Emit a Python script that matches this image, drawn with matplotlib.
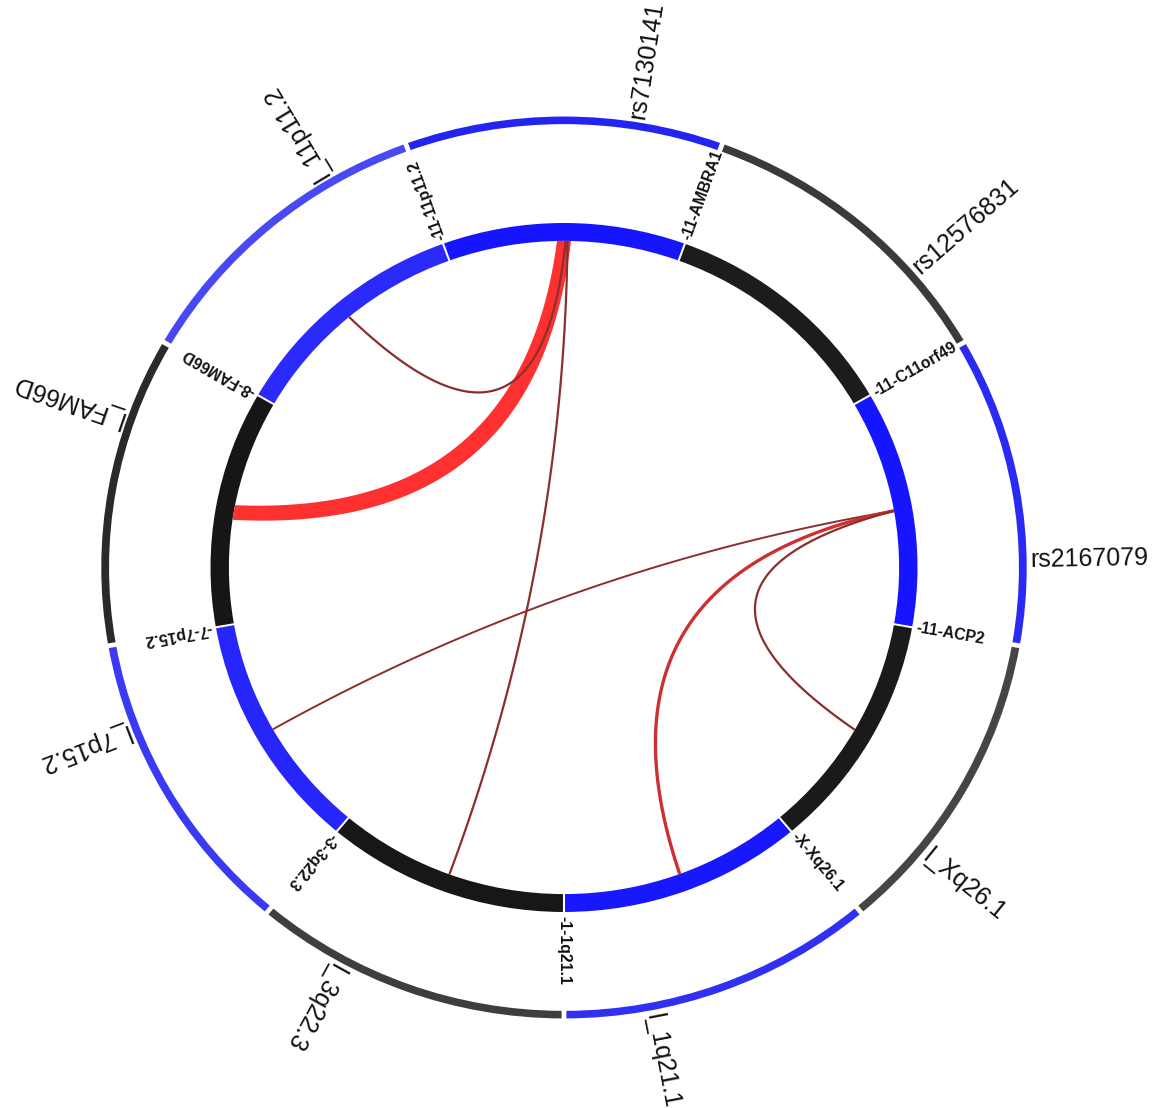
import numpy as np
import matplotlib
matplotlib.use("Agg")
import matplotlib.pyplot as plt
from matplotlib.patches import Wedge, Polygon

# nine sectors, angles in degrees clockwise from 12 o'clock, 40 degrees each
sector_start = [-20, 20, 60, 100, 140, 180, 220, 260, 300]
sector_width = 40

outer_labels = ["rs7130141", "rs12576831", "rs2167079", "l_Xq26.1", "l_1q21.1",
                "l_3q22.3", "l_7p15.2", "l_FAM66D", "l_11p11.2"]
outer_label_pos = [9, 49, 89, 129, 169, 209, 249, 289, 329]
inner_labels = ["-11-11p11.2", "-11-AMBRA1", "-11-C11orf49", "-11-ACP2", "-X-Xq26.1",
                "-1-1q21.1", "-3-3q22.3", "-7-7p15.2", "-8-FAM66D"]

outer_colors = ["#2424f2", "#3a3a3a", "#2a2af4", "#454545", "#3030f2",
                "#3e3e3e", "#3a3af4", "#2a2a2a", "#4848f4"]
inner_colors = ["#1515ff", "#1c1c1c", "#1515ff", "#1a1a1a", "#1818ff",
                "#171717", "#2626fa", "#161616", "#2a2afa"]

# single links: start angle, end angle
link_from = [0.3, 0.6, 80.0, 80.0, 80.0]
link_to = [320.1, 200.0, 240.3, 159.8, 119.8]
link_colors = ["#8b2e2e", "#8b2e2e", "#8b2e2e", "#cc3030", "#8b2e2e"]
link_lw = [1.6, 1.6, 1.4, 2.4, 1.6]
link_bend = [0.21, 0.0, 0.0, 0.05, 0.21]

# the wide ribbon between the two sectors at the top and left
ribbon_from = (-1.2, 1.2)
ribbon_to = (278.4, 281.0)
ribbon_bend = (0.12, 0.19)

R_IN_OUT, R_IN_W = 1.0, 0.052
R_OUT_OUT, R_OUT_W = 1.309, 0.022
R_LINK = R_IN_OUT - R_IN_W


def polar(a, r):
    a = np.radians(a)
    return r * np.sin(a), r * np.cos(a)


def bezier(a1, a2, rc, r=R_LINK, n=120):
    d = ((a2 - a1 + 180) % 360) - 180
    m = a1 + d / 2
    x0, y0 = polar(a1, r)
    x2, y2 = polar(a2, r)
    cx, cy = polar(m, rc)
    t = np.linspace(0, 1, n)
    x = (1 - t) ** 2 * x0 + 2 * t * (1 - t) * cx + t ** 2 * x2
    y = (1 - t) ** 2 * y0 + 2 * t * (1 - t) * cy + t ** 2 * y2
    return x, y


def arc(a1, a2, r=R_LINK, n=20):
    a = np.linspace(a1, a2, n)
    return polar(a, r)


fig = plt.figure(figsize=(11.56, 11.08), dpi=100)
ax = fig.add_axes([0, 0, 1, 1])
ax.set_xlim(-1.5955, 1.6747)
ax.set_ylim(-1.5690, 1.6473)
ax.axis("off")

for i, s in enumerate(sector_start):
    e = s + sector_width
    # Wedge takes counter-clockwise angles from +x
    ax.add_patch(Wedge((0, 0), R_OUT_OUT, 90 - e + 0.3, 90 - s - 0.3,
                       width=R_OUT_W, color=outer_colors[i], lw=0))
    ax.add_patch(Wedge((0, 0), R_IN_OUT, 90 - e + 0.17, 90 - s - 0.17,
                       width=R_IN_W, color=inner_colors[i], lw=0))

    rot = (90 - s + 180) % 360 - 180
    x, y = polar(s, R_IN_OUT + 0.012)
    ax.text(x, y, inner_labels[i], rotation=rot, rotation_mode="anchor",
            ha="left", va="center", fontsize=11.3, fontweight="bold",
            family="Liberation Sans", color="#111111")

    a = outer_label_pos[i]
    rot = (90 - a + 180) % 360 - 180
    x, y = polar(a, R_OUT_OUT + 0.01)
    ax.text(x, y, outer_labels[i], rotation=rot, rotation_mode="anchor",
            ha="left", va="center", fontsize=18, family="Liberation Sans",
            color="#111111")

# ribbon: arc on one end, curve across, arc on the other end, curve back
x1, y1 = arc(ribbon_from[0], ribbon_from[1])
x2, y2 = bezier(ribbon_from[1], ribbon_to[0], ribbon_bend[0])
x3, y3 = arc(ribbon_to[0], ribbon_to[1])
x4, y4 = bezier(ribbon_to[1], ribbon_from[0] + 360, ribbon_bend[1])
px = np.concatenate([x1, x2, x3, x4])
py = np.concatenate([y1, y2, y3, y4])
ax.add_patch(Polygon(np.column_stack([px, py]), closed=True,
                     facecolor="#ff3030", edgecolor="none"))

for a1, a2, c, lw, h in zip(link_from, link_to, link_colors, link_lw, link_bend):
    x, y = bezier(a1, a2, h)
    ax.plot(x, y, color=c, lw=lw, solid_capstyle="butt")

fig.savefig("out.png", dpi=100)
